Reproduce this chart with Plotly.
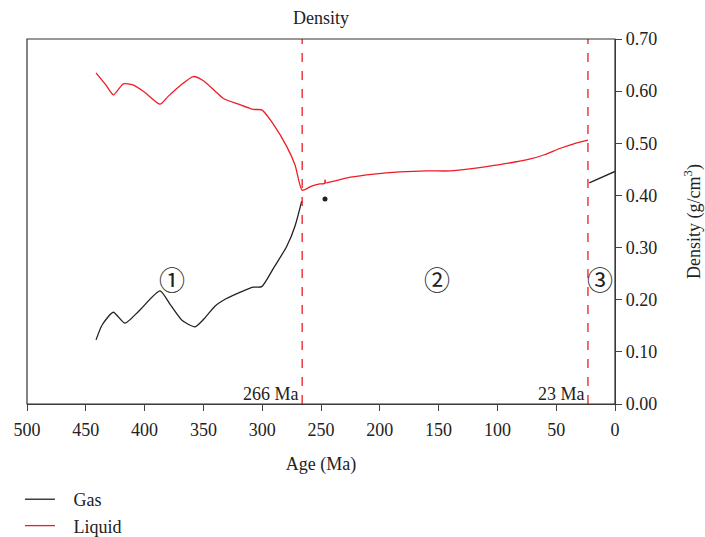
import plotly.graph_objects as go

# ---- data ----
liquid_age = [441.3, 433, 426.6, 418.1, 410, 400, 386.9, 380, 370, 358.6, 350, 340, 333, 320, 307.6, 300.4,
              290, 279.2, 272, 266, 258, 251, 247, 246.6, 246, 240, 225, 205, 183, 160, 140, 120, 98, 72, 60, 47, 35, 23]
liquid_den = [0.635, 0.612, 0.593, 0.614, 0.612, 0.598, 0.575, 0.590, 0.610, 0.628, 0.620, 0.600, 0.586, 0.575, 0.565, 0.564,
              0.535, 0.494, 0.458, 0.410, 0.418, 0.422, 0.423, 0.430, 0.424, 0.427, 0.435, 0.441, 0.445, 0.447, 0.447, 0.452, 0.459, 0.470, 0.478, 0.490, 0.499, 0.506]

gas_age = [441.3, 436, 426.6, 416.7, 405, 386.9, 378, 368, 357.1, 350, 340, 333, 320, 307.6, 300.4,
           290, 279.2, 272, 266.4]
gas_den = [0.123, 0.152, 0.176, 0.155, 0.178, 0.217, 0.190, 0.160, 0.148, 0.162, 0.188, 0.199, 0.213, 0.224, 0.225,
           0.262, 0.302, 0.342, 0.389]

gas3_age = [21.9, 0]
gas3_den = [0.424, 0.446]

dot_age = [246.6]
dot_den = [0.393]

boundaries = [266, 23]
boundary_labels = ["266 Ma", "23 Ma"]

stage_labels = ["①", "②", "③"]
stage_age = [377, 151, 12.8]
stage_den = [0.241, 0.241, 0.241]

x_ticks = [500, 450, 400, 350, 300, 250, 200, 150, 100, 50, 0]
y_ticks = [0.0, 0.1, 0.2, 0.3, 0.4, 0.5, 0.6, 0.7]

FONT = "Liberation Serif"
FS = 18
PAD = "\u00a0\u00a0\u00a0"

fig = go.Figure()
fig.add_trace(go.Scatter(x=gas_age, y=gas_den, mode="lines", name=PAD + "Gas", legendgroup="g",
                         line=dict(color="#222222", width=1.3, shape="spline", smoothing=0.6)))
fig.add_trace(go.Scatter(x=liquid_age, y=liquid_den, mode="lines", name=PAD + "Liquid", legendgroup="l",
                         line=dict(color="#ee1c25", width=1.3, shape="spline", smoothing=0.6)))
fig.add_trace(go.Scatter(x=gas3_age, y=gas3_den, mode="lines", showlegend=False,
                         line=dict(color="#222222", width=1.3)))
fig.add_trace(go.Scatter(x=dot_age, y=dot_den, mode="markers", showlegend=False,
                         marker=dict(color="#222222", size=5)))

for b, lab in zip(boundaries, boundary_labels):
    fig.add_shape(type="line", x0=b, x1=b, y0=0, y1=1, xref="x", yref="paper",
                  line=dict(color="#ee1c25", width=1.3, dash="dash"))
    fig.add_annotation(x=b, y=0, xref="x", yref="y", text=lab, showarrow=False,
                       xanchor="right", yanchor="bottom", xshift=-1, yshift=-2,
                       font=dict(family=FONT, size=FS, color="#222"))

for lab, a, d in zip(stage_labels, stage_age, stage_den):
    fig.add_annotation(x=a, y=d, text=lab, showarrow=False,
                       font=dict(family="Noto Sans CJK JP", size=26, color="#222"))

# frame (left + top)
fig.add_shape(type="rect", x0=0, x1=1, y0=0, y1=1, xref="paper", yref="paper",
              line=dict(color="#333", width=1.2))

fig.update_layout(
    width=705, height=537,
    margin=dict(l=27, r=90, t=39, b=133, autoexpand=False),
    paper_bgcolor="white", plot_bgcolor="white",
    font=dict(family=FONT, size=FS, color="#222"),
    title=dict(text="Density", x=321 / 705, xanchor="center",
               y=1 - 18 / 537, yanchor="middle", font=dict(family=FONT, size=FS, color="#222")),
    xaxis=dict(range=[500, 0], tickvals=x_ticks, ticks="outside", ticklen=6, tickcolor="#444",
               showline=True, linecolor="#444", linewidth=1.2, showgrid=False, zeroline=False,
               automargin=False, ticklabelstandoff=3,
               title=dict(text="Age (Ma)", font=dict(family=FONT, size=FS), standoff=18),
               tickfont=dict(family=FONT, size=FS)),
    yaxis=dict(range=[0, 0.7], tickvals=y_ticks, tickformat=".2f", side="right", ticks="outside",
               ticklen=6, tickcolor="#444", showline=True, linecolor="#444", linewidth=1.2,
               showgrid=False, zeroline=False, automargin=False,
               title=dict(text="Density (g/cm<sup>3</sup>)", font=dict(family=FONT, size=FS), standoff=35),
               tickfont=dict(family=FONT, size=FS)),
    legend=dict(x=-0.012, xanchor="left", y=-0.211, yanchor="top", orientation="v",
                font=dict(family=FONT, size=FS), bgcolor="rgba(0,0,0,0)", tracegroupgap=0),
    showlegend=True,
)

fig.write_html("out.html")
